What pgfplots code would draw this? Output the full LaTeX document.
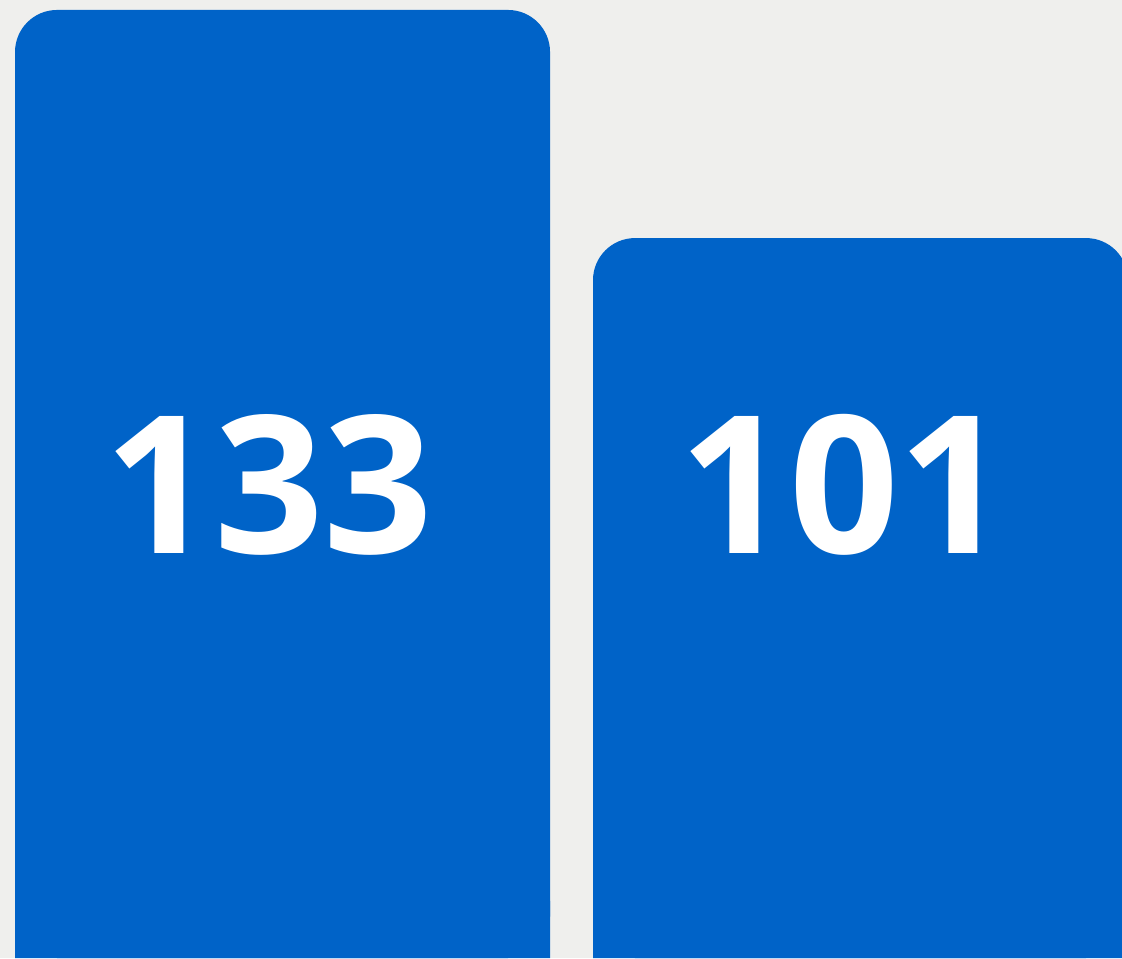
\documentclass[border=0pt]{standalone}
\usepackage{pgfplots}
\pgfplotsset{compat=1.18}
\usepackage{fontspec}
\setmainfont{Open Sans}
\definecolor{barblue}{HTML}{0063C8}
\definecolor{bgcol}{HTML}{EFEFED}
\begin{document}
\begin{tikzpicture}
\begin{axis}[
  width=561pt, height=479pt, scale only axis,
  hide axis,
  axis background/.style={fill=bgcol},
  xmin=-0.4888, xmax=1.4524,
  ymin=0, ymax=134.4,
  ybar, bar width=267.5pt, bar shift=0pt,
  clip=true,
]
% rounded bars
\addplot[fill=barblue, draw=none, rounded corners=21pt] coordinates {(0,133) (1,101)};
% square-bottom overlay (hides the rounded bottom corners at the baseline)
\addplot[fill=barblue, draw=none] coordinates {(0,8) (1,8)};
\node[anchor=base west, xshift=-92.5pt, text=white, font=\fontsize{96}{100}\selectfont\bfseries] at (axis cs:0,56.8) {133};
\node[anchor=base west, xshift=-94pt, text=white, font=\fontsize{96}{100}\selectfont\bfseries] at (axis cs:1,56.8) {101};
\end{axis}
\end{tikzpicture}
\end{document}
